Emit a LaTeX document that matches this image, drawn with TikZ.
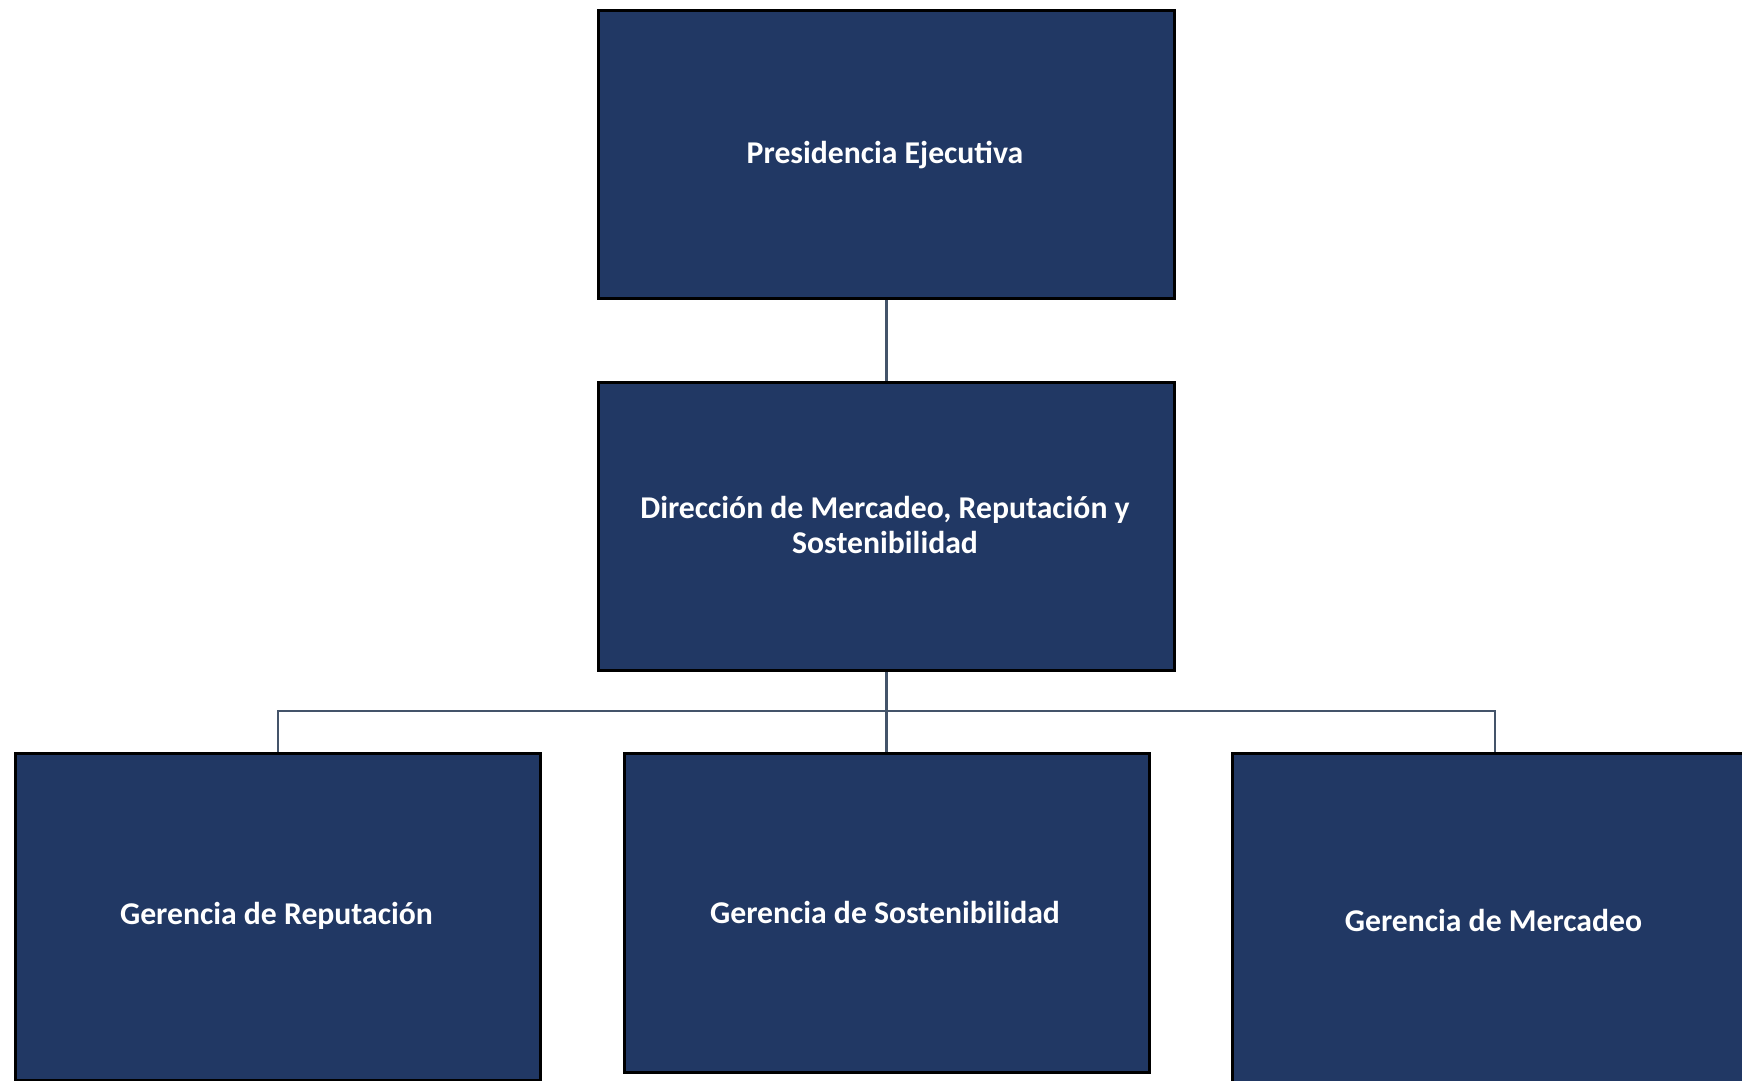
\documentclass[tikz,border=0pt]{standalone}
\usepackage{fontspec}
\setmainfont{Carlito}
\definecolor{boxfill}{HTML}{213864}
\definecolor{linkcol}{HTML}{44546A}
\tikzset{
  orgbox/.style={draw=black, line width=3pt, fill=boxfill, text=white, align=center,
    font=\fontsize{31.7}{35.5}\selectfont\bfseries, inner sep=0pt, anchor=north west, rectangle},
  boxtext/.style={text=white, align=center, font=\fontsize{31.7}{35.5}\selectfont\bfseries},
  link/.style={draw=linkcol, line width=2.2pt}
}
\begin{document}
\begin{tikzpicture}[x=1pt,y=-1pt]
\useasboundingbox (0,0) rectangle (1742,1081);
\clip (0,0) rectangle (1742,1081);
\node[orgbox, minimum width=576pt, minimum height=288pt] (pres) at (597,9) {};
\node[boxtext] (prest) at (885,155) {Presidencia Ejecutiva};
\node[orgbox, minimum width=576pt, minimum height=288pt] (dir) at (597,381) {};
\node[boxtext] (dirt) at (885,525) {Dirección de Mercadeo, Reputación y\\Sostenibilidad};
\node[orgbox, minimum width=525pt, minimum height=327pt] (g1) at (14,752) {};
\node[boxtext] (g1t) at (276.5,916) {Gerencia de Reputación};
\node[orgbox, minimum width=525pt, minimum height=319pt] (g2) at (622.5,752) {};
\node[boxtext] (g2t) at (885,912) {Gerencia de Sostenibilidad};
\node[orgbox, minimum width=525pt, minimum height=340pt] (g3) at (1231,752) {};
\node[boxtext] (g3t) at (1493.5,920) {Gerencia de Mercadeo};
\coordinate (junc) at (885,711);
\draw[link] (pres.south) -- (dir.north);
\draw[link] (dir.south) -- (g2.north);
\draw[link] (g1.north) |- (junc) -| (g3.north);
\end{tikzpicture}
\end{document}
